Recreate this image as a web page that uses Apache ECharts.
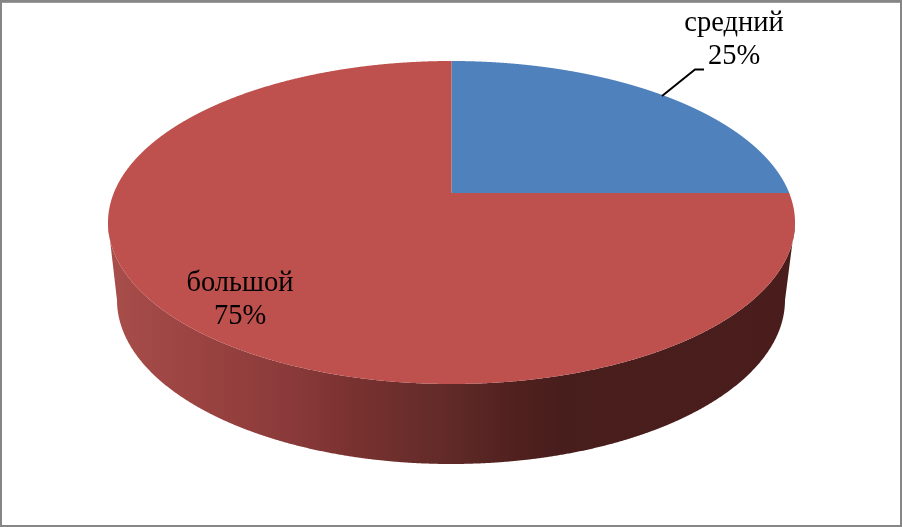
<!DOCTYPE html>
<html>
<head>
<meta charset="utf-8">
<style>html,body{margin:0;padding:0;background:#fff}#c{width:902px;height:527px}</style>
<script src="https://cdn.jsdelivr.net/npm/echarts@6/dist/echarts.min.js"></script>
</head>
<body>
<div id="c"></div>
<script>
const categories = ['средний', 'большой'];
const shares = [25, 75];
const colors = ['#4f81bd', '#be504d'];

const top3d = {cx: 451.5, cy: 222.5, rx: 343.5, ry: 161.5};
const bottom3d = {cx: 451, cy: 300, rx: 334, ry: 164};
const apexOffset = -0.1827; // perspective shift of the pie centre on the top face
const labelAt = [[734, 40], [240, 300]];
const leaderLine = [[662, 96], [695, 69.5], [704, 69.5]];

const total = shares.reduce((a, b) => a + b, 0);
const project = (e, u, v) => {
  const den = 1 + apexOffset * v;
  return [e.cx + e.rx * Math.sqrt(1 - apexOffset * apexOffset) * u / den,
          e.cy + e.ry * (v + apexOffset) / den];
};
const onFace = (e, th) => project(e, Math.sin(th), -Math.cos(th));

const chart = echarts.init(document.getElementById('c'), null, {renderer: 'canvas'});
const wallFill = new echarts.graphic.LinearGradient(108, 0, 795, 0, [
  {offset: 0, color: '#a84e4b'},
  {offset: 0.134, color: '#9a4341'},
  {offset: 0.265, color: '#8a3a3a'},
  {offset: 0.352, color: '#7a3230'},
  {offset: 0.498, color: '#602a28'},
  {offset: 0.6, color: '#4f201e'},
  {offset: 0.658, color: '#481e1c'},
  {offset: 1, color: '#4a1d1c'}
], true);

function renderItem(params, api) {
  const i = params.dataIndex;
  const before = shares.slice(0, i).reduce((a, b) => a + b, 0);
  const a0 = before / total * 2 * Math.PI;
  const a1 = (before + api.value(1)) / total * 2 * Math.PI;
  const steps = 1500;
  const face = [project(top3d, 0, 0)];
  const wallTop = [], wallBottom = [];
  for (let s = 0; s <= steps; s++) {
    const th = a0 + (a1 - a0) * s / steps;
    const p = onFace(top3d, th);
    face.push(p);
    if (p[1] >= top3d.cy) {
      wallTop.push(p);
      wallBottom.push(onFace(bottom3d, th));
    }
  }
  const children = [];
  if (wallTop.length) {
    children.push({type: 'polygon', shape: {points: wallTop.concat(wallBottom.reverse())},
      style: {fill: wallFill}});
  }
  children.push({type: 'polygon', shape: {points: face}, style: {fill: colors[i]}});
  children.push({type: 'text', x: labelAt[i][0], y: labelAt[i][1], z2: 10, style: {
    text: categories[i] + '\n' + api.value(1) + '%',
    fill: '#000', align: 'center', verticalAlign: 'middle',
    font: '28.5px "Liberation Serif"', lineHeight: 33
  }});
  return {type: 'group', children};
}

chart.setOption({
  animation: false,
  series: [{
    type: 'custom',
    coordinateSystem: 'none',
    renderItem,
    silent: true,
    data: categories.map((c, i) => [i, shares[i]])
  }],
  graphic: [
    {type: 'rect', z: 20, shape: {x: 1, y: 1.3, width: 900, height: 524.7},
     style: {fill: 'none', stroke: '#868686', lineWidth: 2}},
    {type: 'rect', z: 20, shape: {x: 0, y: 0, width: 902, height: 2.7},
     style: {fill: '#868686'}},
    {type: 'polyline', z: 20, shape: {points: leaderLine},
     style: {fill: 'none', stroke: '#000', lineWidth: 2}}
  ]
});
</script>
</body>
</html>
